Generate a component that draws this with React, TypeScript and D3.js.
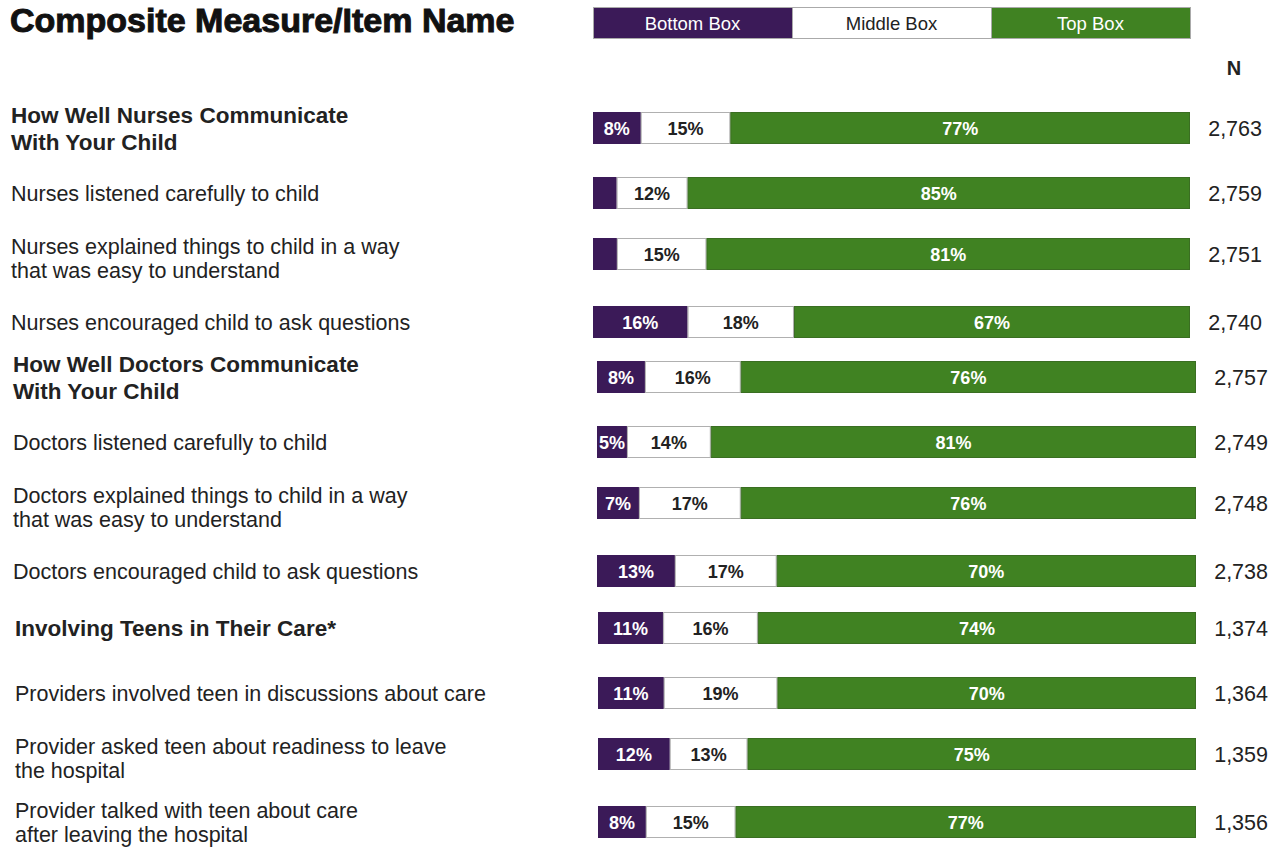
import React from "react";
import * as d3 from "d3";

const rowLabels: string[][] = [
  ["How Well Nurses Communicate", "With Your Child"],
  ["Nurses listened carefully to child"],
  ["Nurses explained things to child in a way", "that was easy to understand"],
  ["Nurses encouraged child to ask questions"],
  ["How Well Doctors Communicate", "With Your Child"],
  ["Doctors listened carefully to child"],
  ["Doctors explained things to child in a way", "that was easy to understand"],
  ["Doctors encouraged child to ask questions"],
  ["Involving Teens in Their Care*"],
  ["Providers involved teen in discussions about care"],
  ["Provider asked teen about readiness to leave", "the hospital"],
  ["Provider talked with teen about care", "after leaving the hospital"],
];
const isComposite = [true, false, false, false, true, false, false, false, true, false, false, false];
const groupOf = [0, 0, 0, 0, 1, 1, 1, 1, 2, 2, 2, 2];
const bottomBox = [8, 4, 4, 16, 8, 5, 7, 13, 11, 11, 12, 8];
const middleBox = [15, 12, 15, 18, 16, 14, 17, 17, 16, 19, 13, 15];
const topBox = [77, 85, 81, 67, 76, 81, 76, 70, 74, 70, 75, 77];
const showBottomLabel = [true, false, false, true, true, true, true, true, true, true, true, true];
const nValues = [2763, 2759, 2751, 2740, 2757, 2749, 2748, 2738, 1374, 1364, 1359, 1356];
const legendItems = ["Bottom Box", "Middle Box", "Top Box"];

// layout
const W = 1277, H = 847;
const PURPLE = "#3b1a58";
const GREEN = "#408222";
const groupCenterTop = [128, 377, 628];
const rowOffsetInGroup = [0, 65, 126, 194];
const groupBarRange: [number, number][] = [[593, 1190], [597, 1196], [598, 1196]];
const groupLabelX = [11, 13, 15];
const groupNRight = [1262, 1268, 1268];
const labelShift = [0, 0, 0, 0, 0, 0, 0, 0, 0, 0, 0, -4];
const barH = 32;
const FONT = "'Liberation Sans', Arial, Helvetica, sans-serif";

export default function App() {
  const fmt = d3.format(",");
  const legendX = d3.scaleBand<string>().domain(legendItems).range([593, 1190]);
  const legendFill = [PURPLE, "#ffffff", GREEN];
  const legendText = ["#ffffff", "#222222", "#ffffff"];

  return (
    <svg width={W} height={H} style={{ position: "absolute", left: 0, top: 0, background: "#fff" }} fontFamily={FONT}>
      <text x={10} y={32} fontSize={34} fontWeight="bold" fill="#111" stroke="#111" strokeWidth={1}>
        Composite Measure/Item Name
      </text>
      {legendItems.map((d, i) => (
        <g key={d}>
          <rect x={legendX(d)! + 0.5} y={7.5} width={legendX.bandwidth()} height={31} fill={legendFill[i]} stroke="#aaaaaa" strokeWidth={1} />
          <text x={legendX(d)! + legendX.bandwidth() / 2} y={29.5} textAnchor="middle" fontSize={18.5} fill={legendText[i]}>
            {d}
          </text>
        </g>
      ))}
      <text x={1234} y={75} textAnchor="middle" fontSize={20} fontWeight="bold" fill="#222">N</text>
      {rowLabels.map((lines, i) => {
        const g = groupOf[i];
        const within = i - g * 4;
        const cy = groupCenterTop[g] + rowOffsetInGroup[within];
        const total = bottomBox[i] + middleBox[i] + topBox[i];
        const x = d3.scaleLinear().domain([0, total]).range(groupBarRange[g]);
        const segs = [
          { v0: 0, v1: bottomBox[i], fill: PURPLE, stroke: "#3b1a58", label: showBottomLabel[i] ? `${bottomBox[i]}%` : "", tc: "#fff" },
          { v0: bottomBox[i], v1: bottomBox[i] + middleBox[i], fill: "#fff", stroke: "#b0b0b0", label: `${middleBox[i]}%`, tc: "#222" },
          { v0: bottomBox[i] + middleBox[i], v1: total, fill: GREEN, stroke: "#3a6e22", label: `${topBox[i]}%`, tc: "#fff" },
        ];
        const comp = isComposite[i];
        const fs = comp ? 22.5 : 21.5;
        const multi = lines.length > 1;
        const lh = comp ? 27 : 24;
        const firstBase = (multi ? (comp ? cy - 5.5 : cy - 0.5) : cy + 8) + labelShift[i];
        return (
          <g key={i}>
            <text fontSize={fs} fontWeight={comp ? "bold" : "normal"} fill="#222">
              {lines.map((l, j) => (
                <tspan key={j} x={groupLabelX[g]} y={firstBase + j * lh}>
                  {l}
                </tspan>
              ))}
            </text>
            {segs.map((s, k) => (
              <g key={k}>
                <rect x={x(s.v0) + 0.5} y={cy - barH / 2 + 0.5} width={Math.max(0, x(s.v1) - x(s.v0) - 1)} height={barH - 1} fill={s.fill} stroke={s.stroke} strokeWidth={1} />
                {s.label && (
                  <text x={(x(s.v0) + x(s.v1)) / 2} y={cy + 6.5} textAnchor="middle" fontSize={18} fontWeight="bold" fill={s.tc}>
                    {s.label}
                  </text>
                )}
              </g>
            ))}
            <text x={groupNRight[g]} y={cy + 8} textAnchor="end" fontSize={21.5} fill="#222">
              {fmt(nValues[i])}
            </text>
          </g>
        );
      })}
    </svg>
  );
}
